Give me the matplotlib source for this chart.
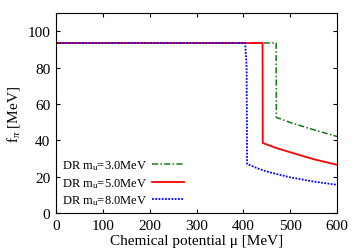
import numpy as np
import matplotlib
matplotlib.use("Agg")
import matplotlib.pyplot as plt

plt.rcParams['font.family'] = ['Liberation Serif', 'DejaVu Serif']
plt.rcParams['mathtext.fontset'] = 'custom'
plt.rcParams['mathtext.rm'] = 'Liberation Serif'
plt.rcParams['mathtext.it'] = 'Liberation Serif:italic'

# f_pi vs chemical potential
mu_30 = [0, 470, 470.5, 500, 550, 600]
fpi_30 = [93.5, 93.5, 52.6, 49.8, 45.8, 42.1]

mu_50 = [0, 441, 441.5, 470, 500, 550, 600]
fpi_50 = [93.5, 93.5, 38.5, 35.8, 33.4, 29.6, 26.5]

mu_80 = [0, 404, 407, 408, 430, 450, 500, 550, 600]
fpi_80 = [93.5, 93.5, 80, 27.0, 24.6, 22.8, 19.6, 17.3, 15.5]

labels = [r"DR m$_\mathrm{u}$=3.0MeV", r"DR m$_\mathrm{u}$=5.0MeV", r"DR m$_\mathrm{u}$=8.0MeV"]

fig = plt.figure(figsize=(3.58, 2.51), dpi=100)
ax = fig.add_axes([56/358, 37/251, 281/358, 200/251])

ax.plot(mu_30, fpi_30, color='#127a12', ls=(0, (4, 1.5, 1, 1.5)), lw=1.1, label=labels[0])
ax.plot(mu_50, fpi_50, color='#ff0000', ls='-', lw=1.3, label=labels[1])
ax.plot(mu_80, fpi_80, color='#0000ff', ls=(0, (1, 0.8)), lw=1.3, label=labels[2])

ax.set_xlim(0, 600)
ax.set_ylim(0, 110)
ax.set_xticks(np.arange(0, 601, 100))
ax.set_yticks(np.arange(0, 101, 20))
ax.tick_params(direction='in', top=True, right=True, labelsize=11, length=3, pad=4)
ax.set_xlabel(r"Chemical potential μ [MeV]", fontsize=11, labelpad=2)
ax.set_ylabel(r"f$_\pi$ [MeV]", fontsize=11, labelpad=4)

ax.legend(loc='lower left', frameon=False, markerfirst=False, fontsize=9,
          handlelength=2.5, labelspacing=0.3, bbox_to_anchor=(0.0, 0.0),
          borderaxespad=0.15, handletextpad=0.45, borderpad=0.3)

fig.savefig("out.png", dpi=100)
